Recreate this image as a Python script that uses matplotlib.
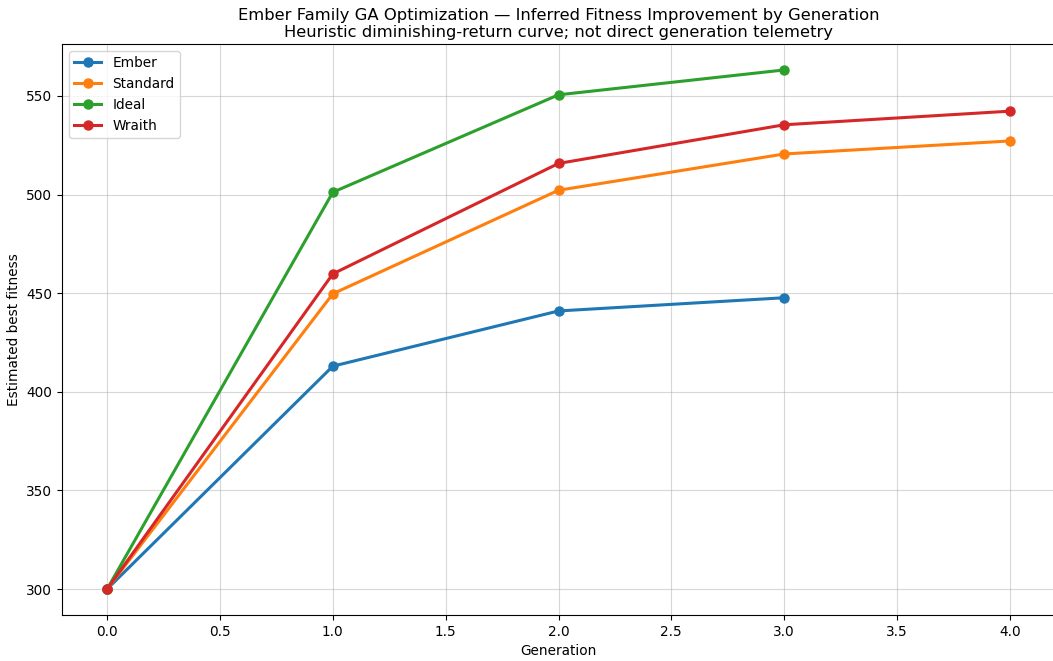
import matplotlib
matplotlib.use("Agg")
import matplotlib.pyplot as plt

# generations and estimated best fitness per variant
generations = [0, 1, 2, 3, 4]
ember = [300, 413, 441, 447.7]
standard = [300, 449.7, 502.2, 520.6, 527.2]
ideal = [300, 501.2, 550.6, 563.2]
wraith = [300, 459.8, 515.8, 535.4, 542.3]

series = [("Ember", ember, "#1f77b4"),
          ("Standard", standard, "#ff7f0e"),
          ("Ideal", ideal, "#2ca02c"),
          ("Wraith", wraith, "#d62728")]

fig = plt.figure(figsize=(10.53, 6.61), dpi=100)
ax = fig.add_axes([62 / 1053, 46 / 661, 993 / 1053, 571 / 661])

for name, vals, color in series:
    ax.plot(generations[:len(vals)], vals, marker="o", linewidth=2.2,
            markersize=6.5, color=color, label=name)

ax.set_title("Ember Family GA Optimization \u2014 Inferred Fitness Improvement by Generation\n"
             "Heuristic diminishing-return curve; not direct generation telemetry",
             fontsize=11.8, pad=5)
ax.set_xlabel("Generation", fontsize=9.8)
ax.set_ylabel("Estimated best fitness", fontsize=9.8)
ax.tick_params(labelsize=9.8)
ax.grid(True, alpha=0.5)
ax.legend(loc="upper left", fontsize=9.8)

fig.savefig("out.png", dpi=100)
